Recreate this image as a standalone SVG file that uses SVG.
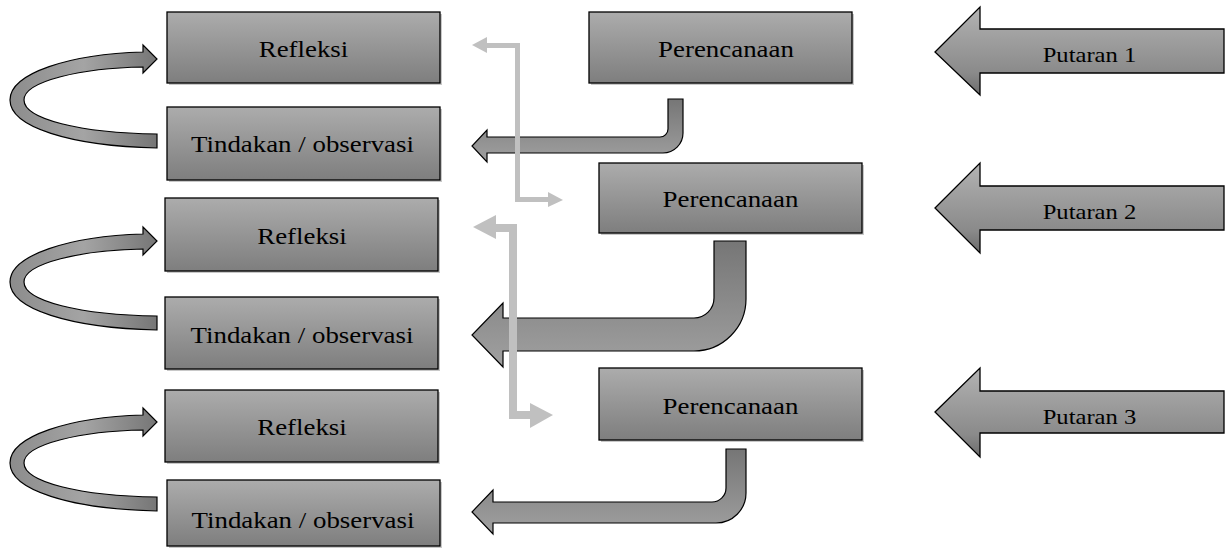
<svg xmlns="http://www.w3.org/2000/svg" width="1225" height="548" viewBox="0 0 1225 548">
<defs>
<linearGradient id="gBox" x1="0" y1="0" x2="0" y2="1">
<stop offset="0" stop-color="#acacac"/><stop offset="1" stop-color="#7e7e7e"/>
</linearGradient>
<linearGradient id="gPut" x1="0" y1="0" x2="0" y2="1">
<stop offset="0" stop-color="#b4b4b4"/><stop offset="0.3" stop-color="#a2a2a2"/><stop offset="0.75" stop-color="#8a8a8a"/><stop offset="1" stop-color="#6c6c6c"/>
</linearGradient>
<linearGradient id="gBent" x1="0" y1="0" x2="0" y2="1">
<stop offset="0" stop-color="#767676"/><stop offset="1" stop-color="#a0a0a0"/>
</linearGradient>
<linearGradient id="gCurve" x1="0" y1="0" x2="1" y2="0">
<stop offset="0" stop-color="#8c8c8c"/><stop offset="0.5" stop-color="#a4a4a4"/><stop offset="1" stop-color="#767676"/>
</linearGradient>
<path id="curve" d="M157,89 C70,87 10,68 10,41 C10,14 70,-5 143,-7 L143,-14 L157,0 L143,14 L143,8 C82,9 24,22 24,41 C24,60 80,74 157,75 Z"/>
</defs>
<style>
.box{fill:url(#gBox);stroke:#000;stroke-width:1.3}
.sh{fill:#c8c8c8}
.put{fill:url(#gPut);stroke:#000;stroke-width:1.3}
.bent{fill:url(#gBent);stroke:#000;stroke-width:1.2}
.curve{fill:url(#gCurve);stroke:#000;stroke-width:1.2}
.gray{fill:none;stroke:#c0c0c0;stroke-linejoin:miter}
.gh{fill:#c0c0c0}
.t{font-family:'Liberation Serif',serif;font-size:24px;fill:#000;text-anchor:middle}
.pt{font-family:'Liberation Serif',serif;font-size:22px;fill:#000;text-anchor:middle}
</style>

<g id="connectors">
<use href="#curve" class="curve" transform="translate(0,59)"/>
<use href="#curve" class="curve" transform="translate(0,241)"/>
<use href="#curve" class="curve" transform="translate(0,422)"/>
<path class="bent" d="M668,99 H683 V133 A20,20 0 0 1 663,153 H487 V162 L472,146 L487,130 V137 H660 A8,8 0 0 0 668,129 Z"/>
<path class="bent" d="M714,241 H746 V299 A52,52 0 0 1 694,351 H503 V367 L472,335 L503,303 V318 H694 A20,20 0 0 0 714,298 Z"/>
<path class="bent" d="M726,449 H746 V493 A30,30 0 0 1 716,523 H493 V534 L472,512 L493,490 V502 H712 A14,14 0 0 0 726,488 Z"/>
<path class="gray" stroke-width="5" d="M486,45.5 H517.5 V199.5 H549"/>
<polygon class="gh" points="487,37 472,45 487,53"/>
<polygon class="gh" points="548,192 563,200 548,207"/>
<path class="gray" stroke-width="8" d="M495,228 H513 V415 H531"/>
<polygon class="gh" points="496,215 473,227 496,239"/>
<polygon class="gh" points="530,403 553,415 530,428"/>
</g>

<g id="refleksi1"><rect class="sh" x="169" y="14" width="273" height="71"/><rect class="box" x="167" y="12" width="273" height="71"/><text class="t" x="303.5" y="57" transform="translate(303.5,0) scale(1.12,1) translate(-303.5,0)">Refleksi</text></g>
<g id="tindakan1"><rect class="sh" x="169" y="109" width="273" height="73"/><rect class="box" x="167" y="107" width="273" height="73"/><text class="t" x="302.5" y="152" transform="translate(302.5,0) scale(1.12,1) translate(-302.5,0)">Tindakan / observasi</text></g>
<g id="refleksi2"><rect class="sh" x="167" y="200" width="273" height="73"/><rect class="box" x="165" y="198" width="273" height="73"/><text class="t" x="302" y="244" transform="translate(302,0) scale(1.12,1) translate(-302,0)">Refleksi</text></g>
<g id="tindakan2"><rect class="sh" x="167" y="299" width="273" height="72"/><rect class="box" x="165" y="297" width="273" height="72"/><text class="t" x="302" y="343" transform="translate(302,0) scale(1.12,1) translate(-302,0)">Tindakan / observasi</text></g>
<g id="refleksi3"><rect class="sh" x="167" y="392" width="273" height="72"/><rect class="box" x="165" y="390" width="273" height="72"/><text class="t" x="302" y="435" transform="translate(302,0) scale(1.12,1) translate(-302,0)">Refleksi</text></g>
<g id="tindakan3"><rect class="sh" x="169" y="482" width="273" height="66"/><rect class="box" x="167" y="480" width="273" height="66"/><text class="t" x="303" y="528" transform="translate(303,0) scale(1.12,1) translate(-303,0)">Tindakan / observasi</text></g>

<g id="perencanaan1"><rect class="sh" x="591" y="14" width="263" height="71"/><rect class="box" x="589" y="12" width="263" height="71"/><text class="t" x="726" y="57" transform="translate(726,0) scale(1.12,1) translate(-726,0)">Perencanaan</text></g>
<g id="perencanaan2"><rect class="sh" x="601" y="165" width="263" height="70"/><rect class="box" x="599" y="163" width="263" height="70"/><text class="t" x="730.5" y="207" transform="translate(730.5,0) scale(1.12,1) translate(-730.5,0)">Perencanaan</text></g>
<g id="perencanaan3"><rect class="sh" x="601" y="370" width="263" height="72"/><rect class="box" x="599" y="368" width="263" height="72"/><text class="t" x="730.5" y="414" transform="translate(730.5,0) scale(1.12,1) translate(-730.5,0)">Perencanaan</text></g>

<g id="putaran1"><polygon class="put" points="935,52 980,7 980,29 1224,29 1224,73 980,73 980,95"/><text class="pt" x="1089.5" y="62" transform="translate(1089.5,0) scale(1.12,1) translate(-1089.5,0)">Putaran 1</text></g>
<g id="putaran2"><polygon class="put" points="935,208 980,163 980,186 1224,186 1224,230 980,230 980,253"/><text class="pt" x="1089.5" y="219" transform="translate(1089.5,0) scale(1.12,1) translate(-1089.5,0)">Putaran 2</text></g>
<g id="putaran3"><polygon class="put" points="935,412 980,368 980,391 1224,391 1224,433 980,433 980,457"/><text class="pt" x="1089.5" y="424" transform="translate(1089.5,0) scale(1.12,1) translate(-1089.5,0)">Putaran 3</text></g>
</svg>
